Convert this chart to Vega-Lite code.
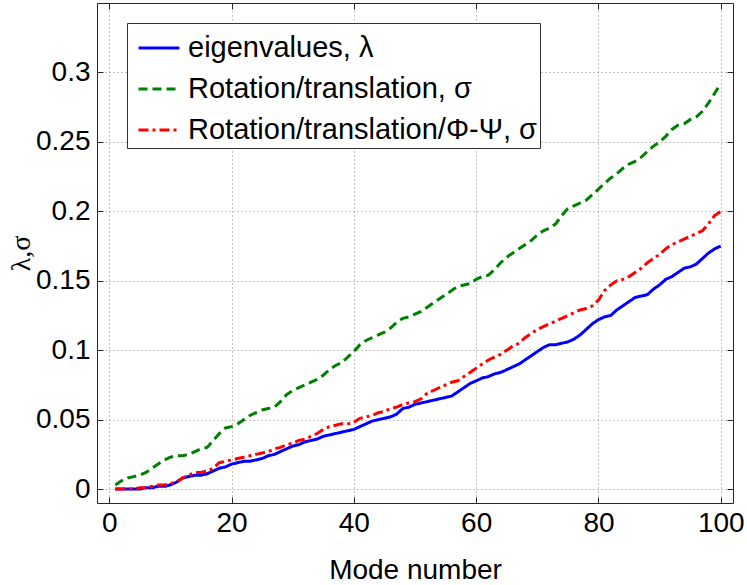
{
"$schema": "https://vega.github.io/schema/vega-lite/v6.json",
"width": 636, "height": 500,
"autosize": {"type": "none"},
"padding": {"left": 97, "top": 3, "right": 14, "bottom": 82},
"background": "white",
"config": {
  "font": "Liberation Sans",
  "view": {"stroke": "#262626", "strokeWidth": 1},
  "axis": {"labelFont": "Liberation Sans", "labelFontSize": 28, "labelColor": "black", "titleColor": "black", "titleFontWeight": "normal", "tickColor": "#262626", "domain": false, "tickSize": -6, "gridColor": "#888888", "gridDash": [1, 3], "gridWidth": 1},
  "legend": {"orient": "none", "legendX": 30, "legendY": 20, "strokeColor": "#333333", "fillColor": "white", "padding": 3, "symbolType": "stroke", "symbolSize": 1681, "symbolStrokeWidth": 3, "labelFontSize": 29, "labelFont": "Liberation Sans", "labelColor": "black", "rowPadding": 4, "symbolOffset": 7, "labelOffset": 7, "labelLimit": 600, "title": null}
},
"data": {"values": [
{"mode":1,"a":0.000,"b":0.003,"c":0.000},
{"mode":2,"a":0.000,"b":0.006,"c":0.000},
{"mode":3,"a":0.000,"b":0.008,"c":0.000},
{"mode":4,"a":0.000,"b":0.009,"c":0.000},
{"mode":5,"a":0.000,"b":0.010,"c":0.001},
{"mode":6,"a":0.001,"b":0.012,"c":0.001},
{"mode":7,"a":0.001,"b":0.015,"c":0.002},
{"mode":8,"a":0.002,"b":0.018,"c":0.003},
{"mode":9,"a":0.002,"b":0.021,"c":0.003},
{"mode":10,"a":0.003,"b":0.023,"c":0.004},
{"mode":11,"a":0.005,"b":0.024,"c":0.005},
{"mode":12,"a":0.008,"b":0.024,"c":0.008},
{"mode":13,"a":0.009,"b":0.025,"c":0.010},
{"mode":14,"a":0.010,"b":0.027,"c":0.012},
{"mode":15,"a":0.010,"b":0.029,"c":0.012},
{"mode":16,"a":0.011,"b":0.030,"c":0.013},
{"mode":17,"a":0.013,"b":0.035,"c":0.015},
{"mode":18,"a":0.015,"b":0.040,"c":0.019},
{"mode":19,"a":0.016,"b":0.044,"c":0.020},
{"mode":20,"a":0.018,"b":0.045,"c":0.021},
{"mode":21,"a":0.019,"b":0.047,"c":0.022},
{"mode":22,"a":0.020,"b":0.050,"c":0.023},
{"mode":23,"a":0.020,"b":0.053,"c":0.024},
{"mode":24,"a":0.021,"b":0.055,"c":0.025},
{"mode":25,"a":0.022,"b":0.057,"c":0.026},
{"mode":26,"a":0.024,"b":0.058,"c":0.027},
{"mode":27,"a":0.025,"b":0.059,"c":0.029},
{"mode":28,"a":0.027,"b":0.063,"c":0.030},
{"mode":29,"a":0.029,"b":0.068,"c":0.032},
{"mode":30,"a":0.031,"b":0.071,"c":0.033},
{"mode":31,"a":0.032,"b":0.073,"c":0.035},
{"mode":32,"a":0.034,"b":0.075,"c":0.036},
{"mode":33,"a":0.035,"b":0.077,"c":0.038},
{"mode":34,"a":0.036,"b":0.079,"c":0.040},
{"mode":35,"a":0.038,"b":0.082,"c":0.043},
{"mode":36,"a":0.039,"b":0.086,"c":0.045},
{"mode":37,"a":0.040,"b":0.089,"c":0.046},
{"mode":38,"a":0.041,"b":0.091,"c":0.047},
{"mode":39,"a":0.042,"b":0.095,"c":0.047},
{"mode":40,"a":0.043,"b":0.099,"c":0.048},
{"mode":41,"a":0.045,"b":0.104,"c":0.051},
{"mode":42,"a":0.047,"b":0.107,"c":0.052},
{"mode":43,"a":0.049,"b":0.109,"c":0.053},
{"mode":44,"a":0.050,"b":0.111,"c":0.055},
{"mode":45,"a":0.051,"b":0.113,"c":0.056},
{"mode":46,"a":0.052,"b":0.116,"c":0.058},
{"mode":47,"a":0.054,"b":0.120,"c":0.059},
{"mode":48,"a":0.058,"b":0.123,"c":0.061},
{"mode":49,"a":0.059,"b":0.124,"c":0.062},
{"mode":50,"a":0.061,"b":0.126,"c":0.063},
{"mode":51,"a":0.062,"b":0.128,"c":0.065},
{"mode":52,"a":0.063,"b":0.131,"c":0.069},
{"mode":53,"a":0.064,"b":0.134,"c":0.071},
{"mode":54,"a":0.065,"b":0.137,"c":0.073},
{"mode":55,"a":0.066,"b":0.140,"c":0.075},
{"mode":56,"a":0.067,"b":0.143,"c":0.077},
{"mode":57,"a":0.070,"b":0.146,"c":0.078},
{"mode":58,"a":0.073,"b":0.147,"c":0.081},
{"mode":59,"a":0.076,"b":0.148,"c":0.084},
{"mode":60,"a":0.078,"b":0.151,"c":0.087},
{"mode":61,"a":0.080,"b":0.153,"c":0.090},
{"mode":62,"a":0.081,"b":0.154,"c":0.093},
{"mode":63,"a":0.083,"b":0.158,"c":0.095},
{"mode":64,"a":0.084,"b":0.163,"c":0.097},
{"mode":65,"a":0.086,"b":0.167,"c":0.100},
{"mode":66,"a":0.088,"b":0.170,"c":0.103},
{"mode":67,"a":0.090,"b":0.173,"c":0.105},
{"mode":68,"a":0.093,"b":0.176,"c":0.109},
{"mode":69,"a":0.096,"b":0.179,"c":0.112},
{"mode":70,"a":0.099,"b":0.183,"c":0.115},
{"mode":71,"a":0.102,"b":0.186,"c":0.117},
{"mode":72,"a":0.104,"b":0.188,"c":0.119},
{"mode":73,"a":0.104,"b":0.191,"c":0.121},
{"mode":74,"a":0.105,"b":0.197,"c":0.123},
{"mode":75,"a":0.106,"b":0.202,"c":0.125},
{"mode":76,"a":0.108,"b":0.204,"c":0.127},
{"mode":77,"a":0.111,"b":0.206,"c":0.129},
{"mode":78,"a":0.115,"b":0.208,"c":0.130},
{"mode":79,"a":0.119,"b":0.212,"c":0.132},
{"mode":80,"a":0.122,"b":0.216,"c":0.136},
{"mode":81,"a":0.124,"b":0.220,"c":0.143},
{"mode":82,"a":0.125,"b":0.224,"c":0.147},
{"mode":83,"a":0.129,"b":0.227,"c":0.150},
{"mode":84,"a":0.132,"b":0.231,"c":0.151},
{"mode":85,"a":0.135,"b":0.234,"c":0.153},
{"mode":86,"a":0.138,"b":0.236,"c":0.156},
{"mode":87,"a":0.139,"b":0.239,"c":0.159},
{"mode":88,"a":0.140,"b":0.243,"c":0.163},
{"mode":89,"a":0.144,"b":0.247,"c":0.166},
{"mode":90,"a":0.147,"b":0.250,"c":0.169},
{"mode":91,"a":0.151,"b":0.254,"c":0.173},
{"mode":92,"a":0.153,"b":0.259,"c":0.176},
{"mode":93,"a":0.156,"b":0.262,"c":0.178},
{"mode":94,"a":0.159,"b":0.263,"c":0.180},
{"mode":95,"a":0.160,"b":0.266,"c":0.182},
{"mode":96,"a":0.162,"b":0.268,"c":0.184},
{"mode":97,"a":0.166,"b":0.272,"c":0.186},
{"mode":98,"a":0.170,"b":0.278,"c":0.191},
{"mode":99,"a":0.173,"b":0.285,"c":0.197},
{"mode":100,"a":0.175,"b":0.292,"c":0.200}
]},
"transform": [{"fold": ["a", "b", "c"], "as": ["series", "value"]}],
"layer": [
  {
    "mark": {"type": "line", "strokeWidth": 3},
    "encoding": {
      "x": {"field": "mode", "type": "quantitative", "scale": {"domain": [-2, 102], "nice": false, "zero": false},
            "axis": {"orient": "bottom", "values": [0, 20, 40, 60, 80, 100], "grid": true, "labelPadding": 12, "title": "Mode number", "titleFontSize": 28, "titleFont": "Liberation Sans", "titlePadding": 19}},
      "y": {"field": "value", "type": "quantitative", "scale": {"domain": [-0.01, 0.35], "nice": false, "zero": false},
            "axis": {"orient": "left", "values": [0, 0.05, 0.1, 0.15, 0.2, 0.25, 0.3], "format": ".2~f", "grid": true, "labelPadding": 13, "title": "λ,σ", "titleFont": "Liberation Serif", "titleFontSize": 28, "titlePadding": 0}},
      "color": {"field": "series", "type": "nominal", "scale": {"domain": ["a", "b", "c"], "range": ["#0000ff", "#008000", "#ff0000"]},
                "legend": {"labelExpr": "datum.label == 'a' ? 'eigenvalues, λ' : datum.label == 'b' ? 'Rotation/translation, σ' : 'Rotation/translation/Φ-Ψ, σ'"}},
      "strokeDash": {"field": "series", "type": "nominal", "scale": {"domain": ["a", "b", "c"], "range": [[1, 0], [9, 5], [10, 4, 3, 4]]},
                "legend": {"labelExpr": "datum.label == 'a' ? 'eigenvalues, λ' : datum.label == 'b' ? 'Rotation/translation, σ' : 'Rotation/translation/Φ-Ψ, σ'"}}
    }
  },
  {
    "mark": {"type": "line", "strokeOpacity": 0},
    "encoding": {
      "x": {"field": "mode", "type": "quantitative", "axis": {"orient": "top", "values": [0, 20, 40, 60, 80, 100], "labels": false, "grid": false, "title": null}},
      "y": {"field": "value", "type": "quantitative", "axis": {"orient": "right", "values": [0, 0.05, 0.1, 0.15, 0.2, 0.25, 0.3], "labels": false, "grid": false, "title": null}},
      "detail": {"field": "series", "type": "nominal"}
    }
  }
],
"resolve": {"axis": {"x": "independent", "y": "independent"}}
}
